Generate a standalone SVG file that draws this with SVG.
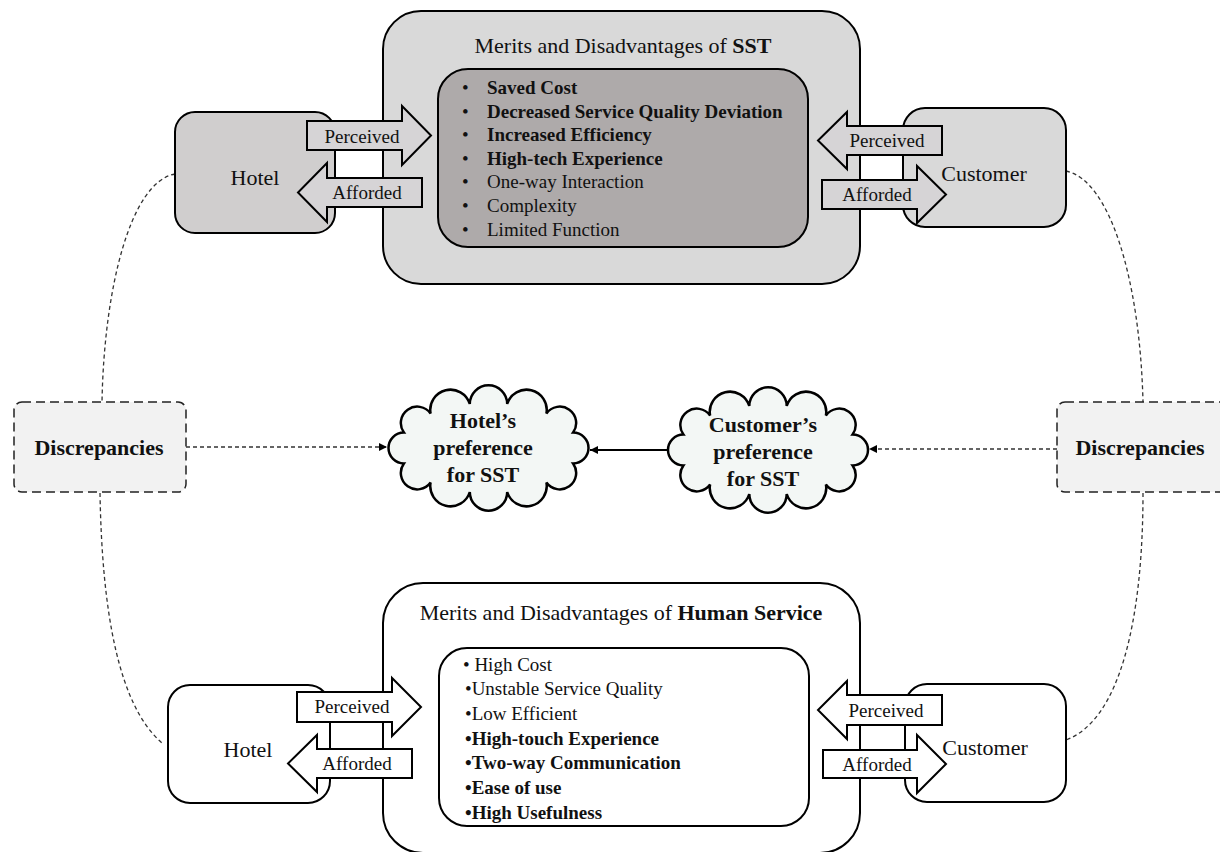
<svg xmlns="http://www.w3.org/2000/svg" width="1220" height="852" viewBox="0 0 1220 852">
<style>
  text { font-family: "Liberation Serif", "Times New Roman", serif; fill: #111; }
  .box { stroke: #000; stroke-width: 2; }
  .outerTop { fill: #d9d9d9; }
  .innerTop { fill: #aeaaaa; }
  .hotelTop { fill: #d0cece; }
  .custTop { fill: #d9d9d9; }
  .white { fill: #fff; }
  .blk { stroke: #000; stroke-width: 2; stroke-linejoin: miter; }
  .blkTop { fill: #d6d4d6; }
  .lbl { font-size: 19px; text-anchor: middle; }
  .name { font-size: 22px; text-anchor: middle; }
  .title { font-size: 22px; text-anchor: middle; }
  .li { font-size: 19px; }
  .b { font-weight: bold; }
  .disc { fill: #f2f2f2; stroke: #222; stroke-width: 1.5; stroke-dasharray: 9 5; }
  .disctxt { font-size: 22px; font-weight: bold; text-anchor: middle; }
  .cloud { fill: #f3f7f5; stroke: #000; stroke-width: 2.5; }
  .cloudtxt { font-size: 22px; font-weight: bold; text-anchor: middle; }
  .dash { fill: none; stroke: #333; stroke-width: 1.3; stroke-dasharray: 4 3; }
  .solid { fill: none; stroke: #000; stroke-width: 2; }
</style>
<defs>
  <marker id="ah" viewBox="0 0 10 10" refX="10" refY="5" markerWidth="8" markerHeight="8" markerUnits="userSpaceOnUse" orient="auto">
    <path d="M0,0 L10,5 L0,10 z" fill="#000"/>
  </marker>
  <path id="cloudShape" d="M84.6,-15.4 A15.4,15.4 0 0 1 84.6,15.4 A16.4,16.4 0 0 1 57.9,34.5 A20.2,20.2 0 0 1 18.7,44 A18.7,18.7 0 0 1 -18.7,44 A20.2,20.2 0 0 1 -57.9,34.5 A16.4,16.4 0 0 1 -84.6,15.4 A15.4,15.4 0 0 1 -84.6,-15.4 A16.4,16.4 0 0 1 -57.9,-34.5 A20.2,20.2 0 0 1 -18.7,-44 A18.7,18.7 0 0 1 18.7,-44 A20.2,20.2 0 0 1 57.9,-34.5 A16.4,16.4 0 0 1 84.6,-15.4 Z"/>
</defs>

<g id="connectors">
  <path class="dash" d="M175,174 C130,182 104,290 102,402"/>
  <path class="dash" d="M100,493 C102,610 118,705 162,743"/>
  <path class="dash" d="M1066,171 C1110,180 1140,280 1143,402"/>
  <path class="dash" d="M1143,493 C1143,620 1120,720 1066,740"/>
  <line class="dash" x1="186" y1="447" x2="387" y2="447" marker-end="url(#ah)"/>
  <line class="dash" x1="1057" y1="449" x2="869" y2="449" marker-end="url(#ah)"/>
  <line class="solid" x1="667" y1="450" x2="590" y2="450" marker-end="url(#ah)"/>
</g>

<g id="sst-box">
  <rect class="box outerTop" x="383" y="11" width="477" height="273" rx="38"/>
  <text class="title" x="623" y="53">Merits and Disadvantages of <tspan class="b">SST</tspan></text>
  <rect class="box innerTop" x="438" y="69" width="370" height="178" rx="30"/>
  <g class="li">
    <text x="462" y="94">•</text><text class="b" x="487" y="94">Saved Cost</text>
    <text x="462" y="117.6">•</text><text class="b" x="487" y="117.6">Decreased Service Quality Deviation</text>
    <text x="462" y="141.2">•</text><text class="b" x="487" y="141.2">Increased Efficiency</text>
    <text x="462" y="164.8">•</text><text class="b" x="487" y="164.8">High-tech Experience</text>
    <text x="462" y="188.4">•</text><text x="487" y="188.4">One-way Interaction</text>
    <text x="462" y="212">•</text><text x="487" y="212">Complexity</text>
    <text x="462" y="235.6">•</text><text x="487" y="235.6">Limited Function</text>
  </g>
</g>

<g id="hotel-top">
  <rect class="box hotelTop" x="175" y="112" width="160" height="121" rx="20"/>
  <text class="name" x="255" y="185">Hotel</text>
</g>
<g id="customer-top">
  <rect class="box custTop" x="903" y="108" width="163" height="119" rx="22"/>
  <text class="name" x="984" y="181">Customer</text>
</g>

<g id="human-box">
  <rect class="box white" x="383" y="583" width="477" height="270" rx="40"/>
  <text class="title" x="621" y="620">Merits and Disadvantages of <tspan class="b">Human Service</tspan></text>
  <rect class="box white" x="439" y="648" width="370" height="178" rx="28"/>
  <g class="li">
    <text x="463" y="671">• High Cost</text>
    <text x="465" y="695">•Unstable Service Quality</text>
    <text x="465" y="720">•Low Efficient</text>
    <text class="b" x="465" y="745">•High-touch Experience</text>
    <text class="b" x="465" y="769">•Two-way Communication</text>
    <text class="b" x="465" y="794">•Ease of use</text>
    <text class="b" x="465" y="819">•High Usefulness</text>
  </g>
</g>

<g id="hotel-bottom">
  <rect class="box white" x="168" y="685" width="162" height="118" rx="22"/>
  <text class="name" x="248" y="757">Hotel</text>
</g>
<g id="customer-bottom">
  <rect class="box white" x="905" y="684" width="161" height="118" rx="22"/>
  <text class="name" x="985" y="755">Customer</text>
</g>

<g id="block-arrows">
  <g id="hotel-top-perceived">
    <polygon class="blk blkTop" points="307,121 402,121 402,106 431,135.5 402,165 402,150 307,150"/>
    <text class="lbl" x="362" y="143">Perceived</text>
  </g>
  <g id="hotel-top-afforded">
    <polygon class="blk blkTop" points="422,178 327,178 327,163 298,192.5 327,222 327,207 422,207"/>
    <text class="lbl" x="367" y="199">Afforded</text>
  </g>
  <g id="customer-top-perceived">
    <polygon class="blk blkTop" points="942,126 847,126 847,112 818,140.5 847,169 847,155 942,155"/>
    <text class="lbl" x="887" y="147">Perceived</text>
  </g>
  <g id="customer-top-afforded">
    <polygon class="blk blkTop" points="822,180 917,180 917,166 946,194.5 917,223 917,209 822,209"/>
    <text class="lbl" x="877" y="201">Afforded</text>
  </g>
  <g id="hotel-bottom-perceived">
    <polygon class="blk white" points="297,692 392,692 392,678 421,707 392,736 392,722 297,722"/>
    <text class="lbl" x="352" y="713">Perceived</text>
  </g>
  <g id="hotel-bottom-afforded">
    <polygon class="blk white" points="412,749 317,749 317,735 288,763.5 317,792 317,778 412,778"/>
    <text class="lbl" x="357" y="770">Afforded</text>
  </g>
  <g id="customer-bottom-perceived">
    <polygon class="blk white" points="942,695 847,695 847,681 818,710 847,739 847,725 942,725"/>
    <text class="lbl" x="886" y="717">Perceived</text>
  </g>
  <g id="customer-bottom-afforded">
    <polygon class="blk white" points="823,750 917,750 917,735 946,764 917,793 917,778 823,778"/>
    <text class="lbl" x="877" y="771">Afforded</text>
  </g>
</g>

<g id="discrepancies-left">
  <rect class="disc" x="14" y="402" width="172" height="90" rx="8"/>
  <text class="disctxt" x="99" y="455">Discrepancies</text>
</g>
<g id="discrepancies-right">
  <rect class="disc" x="1057" y="402" width="172" height="90" rx="8"/>
  <text class="disctxt" x="1140" y="455">Discrepancies</text>
</g>

<g id="hotel-preference">
  <use href="#cloudShape" class="cloud" transform="translate(488.5,448)"/>
  <text class="cloudtxt" x="483" y="428">Hotel’s</text>
  <text class="cloudtxt" x="483" y="455">preference</text>
  <text class="cloudtxt" x="483" y="482">for SST</text>
</g>
<g id="customer-preference">
  <use href="#cloudShape" class="cloud" transform="translate(768,450)"/>
  <text class="cloudtxt" x="763" y="432">Customer’s</text>
  <text class="cloudtxt" x="763" y="459">preference</text>
  <text class="cloudtxt" x="763" y="486">for SST</text>
</g>
</svg>
